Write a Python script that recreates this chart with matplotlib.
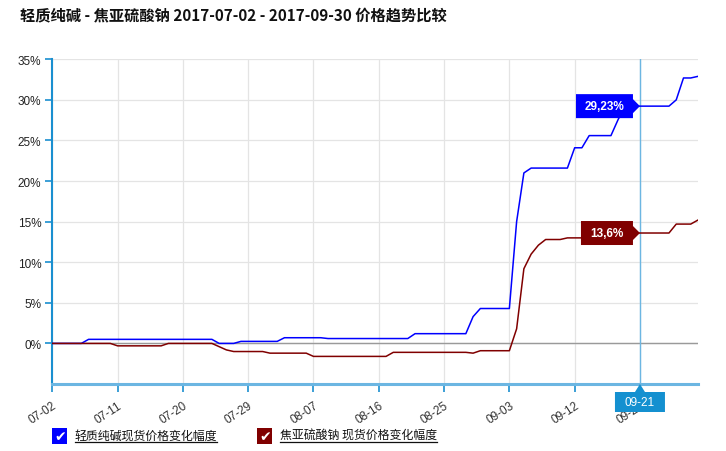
import numpy as np
import pandas as pd
import matplotlib
matplotlib.use("Agg")
from matplotlib import pyplot as plt
from matplotlib import transforms
from matplotlib.patches import Polygon, Rectangle
from matplotlib.lines import Line2D

CJK = ["Noto Sans CJK SC", "DejaVu Sans"]
plt.rcParams["font.family"] = ["Liberation Sans", "DejaVu Sans"]

# ── Data (daily, 2017-07-02 .. 2017-09-29) ────────────────────────────────────
start_date = "2017-07-02"
title = "轻质纯碱 - 焦亚硫酸钠 2017-07-02 - 2017-09-30 价格趋势比较"
series_names = ["轻质纯碱现货价格变化幅度", "焦亚硫酸钠 现货价格变化幅度"]
series_colors = ["#0000ff", "#800000"]

soda_ash = (
    [0.0] * 5 + [0.5] * 18 + [0.0] * 3 + [0.25] * 6 + [0.7] * 6 + [0.6] * 12
    + [1.2] * 8 + [3.3] + [4.3] * 5 + [15.0, 21.0] + [21.6] * 6 + [24.1] * 2
    + [25.6] * 4 + [27.6] + [29.23] * 7 + [30.0, 32.7, 32.7, 32.9]
)
metabisulfite = (
    [0.0] * 9 + [-0.3] * 7 + [0.0] * 7 + [-0.4, -0.8] + [-1.0] * 5 + [-1.2] * 6
    + [-1.6] * 11 + [-1.1] * 11 + [-1.2] + [-0.9] * 5
    + [1.8, 9.2, 11.0, 12.1] + [12.8] * 3 + [13.0] * 5 + [13.6] * 10
    + [14.7] * 3 + [15.2]
)

cursor_day = 81
cursor_labels = ["29,23%", "13,6%"]
y_ticks = [0, 5, 10, 15, 20, 25, 30, 35]

days = np.arange(len(soda_ash))
dates = pd.date_range(start_date, periods=len(days))
x_ticks = days[::9]
x_labels = [d.strftime("%m-%d") for d in dates[::9]]

W, H = 726, 452
fig = plt.figure(figsize=(W / 100, H / 100), dpi=100)
ax = fig.add_axes([52.3 / W, 1 - 385 / H, (698 - 52.3) / W, (385 - 60.3) / H])

def fx(px):
    return px / W

def fy(py):
    return 1 - py / H

# ── Axes styling ──────────────────────────────────────────────────────────────
ax.set_xlim(0, 89)
ax.set_ylim(-5, 35)
for s in ["top", "right"]:
    ax.spines[s].set_visible(False)
ax.spines["left"].set_color("#1a8fd0")
ax.spines["left"].set_linewidth(1.5)
ax.spines["bottom"].set_color("#6cb6e2")
ax.spines["bottom"].set_linewidth(2.2)

ax.set_yticks(y_ticks)
ax.set_yticklabels([f"{v}%" for v in y_ticks])
ax.set_xticks(x_ticks)
ax.set_xticklabels(x_labels, rotation=33, ha="right", rotation_mode="anchor")
ax.tick_params(axis="y", colors="#1a8fd0", labelcolor="#222222", labelsize=8.5, length=5, width=1.2, pad=3)
ax.tick_params(axis="x", colors="#1a8fd0", labelcolor="#333333", labelsize=8.5, length=6, width=1.2, pad=5)
ax.grid(True, color="#e4e4e4", linewidth=0.9)
ax.set_axisbelow(True)
ax.axhline(0, color="#9a9a9a", linewidth=1, zorder=1.5)

ax.plot(days, soda_ash, color=series_colors[0], linewidth=1.1, zorder=3)
ax.plot(days, metabisulfite, color=series_colors[1], linewidth=1.1, zorder=3)

# ── Crosshair and tags ────────────────────────────────────────────────────────
ax.axvline(cursor_day, color="#6cb6e2", linewidth=1, zorder=2.8)

def pix_trans(x, y):
    return fig.dpi_scale_trans + transforms.ScaledTranslation(x, y, ax.transData)

def value_tag(x, y, text, color, width):
    t = pix_trans(x, y)
    p = 1 / 100
    verts = [(0, 0), (-7 * p, 7 * p), (-7 * p, 12 * p), ((-7 - width) * p, 12 * p),
             ((-7 - width) * p, -12 * p), (-7 * p, -12 * p), (-7 * p, -7 * p)]
    ax.add_patch(Polygon(verts, closed=True, transform=t, facecolor=color,
                         edgecolor="none", zorder=10, clip_on=False))
    ax.text(((-7 - width / 2) * p), 0, text, transform=t, color="white",
            fontsize=8.5, fontweight="bold", ha="center", va="center", zorder=11)

values = [soda_ash[cursor_day], metabisulfite[cursor_day]]
value_tag(cursor_day, values[0], cursor_labels[0], series_colors[0], 57)
value_tag(cursor_day, values[1], cursor_labels[1], series_colors[1], 52)

# date tag under the axis
t = pix_trans(cursor_day, -5)
p = 1 / 100
date_verts = [(0, 0), (5 * p, -8 * p), (25 * p, -8 * p), (25 * p, -28 * p),
              (-25 * p, -28 * p), (-25 * p, -8 * p), (-5 * p, -8 * p)]
ax.add_patch(Polygon(date_verts, closed=True, transform=t, facecolor="#1490d0",
                     edgecolor="none", zorder=10, clip_on=False))
ax.text(0, -18 * p, dates[cursor_day].strftime("%m-%d"), transform=t, color="white",
        fontsize=8.5, ha="center", va="center", zorder=11)

# ── Title ─────────────────────────────────────────────────────────────────────
fig.text(fx(20), fy(15), title, family=CJK, fontsize=11, fontweight="bold",
         ha="left", va="center", color="#111111")

# ── Legend (checkbox style) ───────────────────────────────────────────────────
fig.canvas.draw()
legend_x = [52.3, 257.3]
for lx, name, col in zip(legend_x, series_names, series_colors):
    fig.patches.append(Rectangle((fx(lx), fy(444.5)), 15 / W, 15.5 / H, transform=fig.transFigure,
                                 facecolor=col, edgecolor="none"))
    fig.text(fx(lx + 7.5), fy(437.5), "✔", family=["DejaVu Sans"], fontsize=10,
             color="white", ha="center", va="center")
    txt = fig.text(fx(lx + 22.5), fy(436.5), name, family=CJK, fontsize=8.6,
                   color="#111111", ha="left", va="center")
    bb = txt.get_window_extent(renderer=fig.canvas.get_renderer())
    fig.lines.append(Line2D([bb.x0 / W, bb.x1 / W], [fy(443), fy(443)],
                            transform=fig.transFigure, color="#111111", linewidth=0.9))

fig.savefig("out.png", dpi=100)
